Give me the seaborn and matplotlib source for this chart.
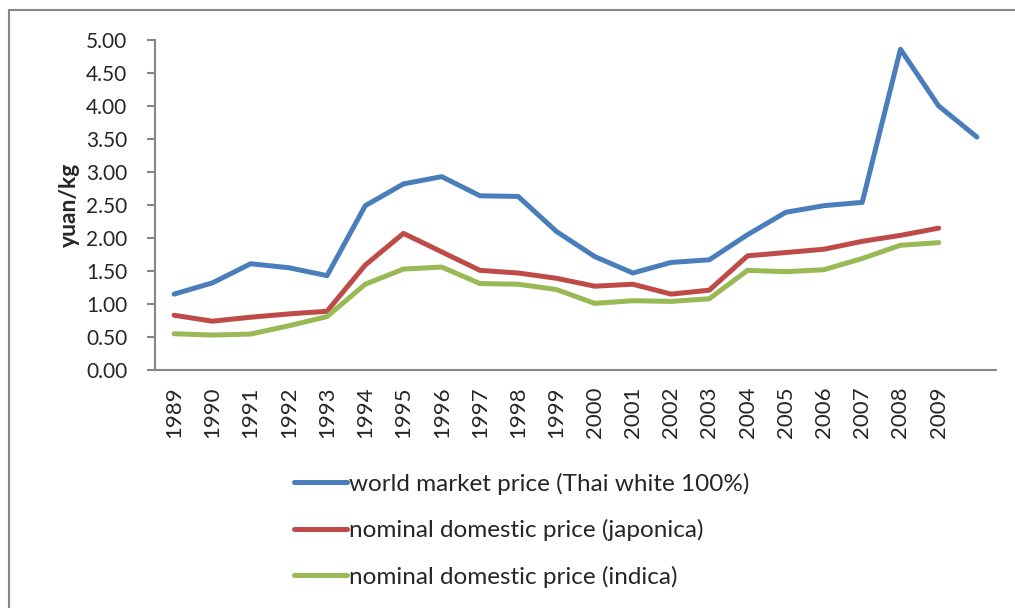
import matplotlib
matplotlib.use("Agg")
import matplotlib.pyplot as plt
from matplotlib.lines import Line2D
import seaborn as sns
import pandas as pd
import numpy as np

# data (yuan/kg)
years = ['1989', '1990', '1991', '1992', '1993', '1994', '1995', '1996', '1997', '1998', '1999',
         '2000', '2001', '2002', '2003', '2004', '2005', '2006', '2007', '2008', '2009', '']
world_price = [1.15, 1.32, 1.61, 1.55, 1.43, 2.49, 2.82, 2.93, 2.64, 2.63, 2.10,
               1.72, 1.47, 1.63, 1.67, 2.05, 2.39, 2.49, 2.54, 4.86, 4.00, 3.53]
japonica = [0.83, 0.74, 0.80, 0.85, 0.89, 1.59, 2.07, 1.79, 1.51, 1.47, 1.39,
            1.27, 1.30, 1.15, 1.21, 1.73, 1.78, 1.83, 1.95, 2.04, 2.15, np.nan]
indica = [0.55, 0.53, 0.545, 0.67, 0.81, 1.30, 1.53, 1.56, 1.31, 1.30, 1.22,
          1.01, 1.05, 1.04, 1.08, 1.51, 1.49, 1.52, 1.69, 1.89, 1.93, np.nan]
series_names = ['world market price (Thai white 100%)',
                'nominal domestic price (japonica)',
                'nominal domestic price (indica)']
colors = ['#4A7EBB', '#BE4B48', '#98B954']

df = pd.DataFrame({
    'pos': list(range(len(years))) * 3,
    'price': world_price + japonica + indica,
    'series': [s for s in series_names for _ in years],
})

sns.set_style('white')
plt.rcParams['font.family'] = ['Lato', 'DejaVu Sans']

fig = plt.figure(figsize=(10.15, 6.08), dpi=100)
ax = fig.add_axes([0.1527, 0.3914, 0.8286, 0.5428])

sns.lineplot(data=df, x='pos', y='price', hue='series', hue_order=series_names,
             palette=colors, linewidth=3.6, ax=ax, legend=False)

ax.set_xlim(-0.5, len(years) - 0.5)
ax.set_ylim(0, 5)
ax.set_yticks(np.arange(0, 5.01, 0.5))
ax.set_yticklabels([f'{v:.2f}' for v in np.arange(0, 5.01, 0.5)], fontsize=15)
ax.set_xticks(range(len(years)))
ax.set_xticklabels(years, rotation=90, fontsize=16)
ax.tick_params(axis='y', direction='out', length=6, width=1.5, color='#868686', pad=14, left=True)
ax.tick_params(axis='x', length=0, pad=12)
ax.set_xlabel('')
ax.set_ylabel('yuan/kg', fontsize=16.5, fontweight='bold', labelpad=4)

for side in ['top', 'right']:
    ax.spines[side].set_visible(False)
for side in ['left', 'bottom']:
    ax.spines[side].set_color('#868686')
    ax.spines[side].set_linewidth(1.5)

# legend below the plot
handles = [Line2D([0], [0], color=c, lw=3.6) for c in colors]
fig.legend(handles, series_names, loc='center', bbox_to_anchor=(0.514, 0.128),
           frameon=False, fontsize=17.5, handlelength=2.2, handletextpad=0.1,
           labelspacing=1.0, ncol=1)

# outer chart frame (left and top edges)
fig.add_artist(Line2D([9 / 1015, 9 / 1015], [0, 1 - 10 / 608], transform=fig.transFigure,
                      color='#868686', lw=1.5))
fig.add_artist(Line2D([9 / 1015, 1], [1 - 10 / 608, 1 - 10 / 608], transform=fig.transFigure,
                      color='#868686', lw=1.5))

fig.savefig('out.png', dpi=100)
